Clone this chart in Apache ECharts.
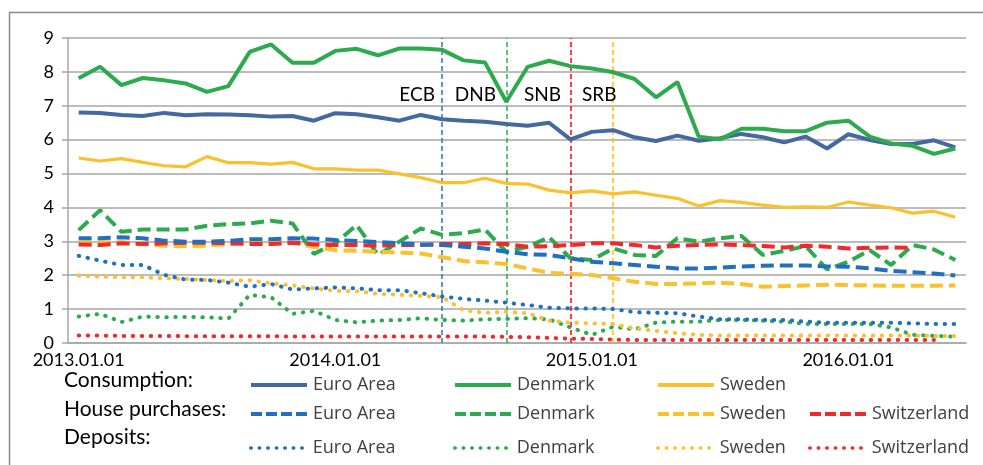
<!DOCTYPE html>
<html>
<head>
<meta charset="utf-8">
<script src="https://cdn.jsdelivr.net/npm/echarts@6/dist/echarts.min.js"></script>
<style>
  html, body { margin: 0; padding: 0; background: #fff; }
  #chart { width: 983px; height: 465px; }
</style>
</head>
<body>
<div id="chart"></div>
<script>
// months 2013.01 .. 2016.06
const months = [];
for (let y = 2013; y <= 2016; y++) {
  for (let m = 1; m <= 12; m++) {
    if (y === 2016 && m > 6) break;
    months.push(y + "." + String(m).padStart(2, "0") + ".01");
  }
}

const consEA = [6.80,6.79,6.73,6.70,6.79,6.72,6.75,6.74,6.72,6.68,6.70,6.56,
  6.78,6.75,6.66,6.56,6.73,6.60,6.56,6.53,6.46,6.41,6.50,6.01,
  6.23,6.28,6.07,5.96,6.12,5.97,6.04,6.17,6.07,5.92,6.09,5.74,
  6.16,5.99,5.87,5.87,5.98,5.77];
const consDK = [7.81,8.15,7.61,7.82,7.75,7.66,7.41,7.58,8.59,8.81,8.27,8.27,
  8.62,8.68,8.49,8.69,8.69,8.65,8.34,8.28,7.12,8.15,8.33,8.17,
  8.10,7.99,7.79,7.25,7.70,6.09,6.01,6.32,6.32,6.25,6.25,6.50,
  6.56,6.09,5.89,5.82,5.58,5.74];
const consSE = [5.46,5.37,5.44,5.33,5.23,5.20,5.50,5.32,5.32,5.28,5.33,5.14,
  5.14,5.10,5.10,4.99,4.88,4.73,4.73,4.86,4.71,4.69,4.51,4.43,
  4.49,4.40,4.46,4.36,4.27,4.04,4.20,4.15,4.07,4.00,4.02,4.00,
  4.16,4.07,3.99,3.83,3.89,3.71];

const hpEA = [3.09,3.09,3.12,3.09,3.02,2.99,2.99,3.01,3.06,3.06,3.09,3.08,
  3.04,3.01,2.98,2.94,2.91,2.89,2.84,2.79,2.69,2.62,2.60,2.50,
  2.40,2.35,2.30,2.25,2.20,2.20,2.22,2.26,2.28,2.29,2.29,2.26,
  2.25,2.20,2.13,2.09,2.05,1.99];
const hpDK = [3.33,3.92,3.28,3.35,3.35,3.35,3.46,3.51,3.53,3.61,3.53,2.63,
  2.94,3.48,2.60,2.99,3.38,3.19,3.24,3.35,2.69,2.84,3.12,2.50,
  2.45,2.79,2.60,2.57,3.09,2.99,3.09,3.16,2.60,2.72,2.86,2.17,
  2.40,2.74,2.30,2.89,2.76,2.45];
const hpSE = [2.97,2.97,2.97,2.94,2.87,2.86,2.87,2.92,3.01,3.01,2.96,2.84,
  2.74,2.72,2.69,2.67,2.64,2.53,2.42,2.38,2.33,2.20,2.07,2.04,
  2.01,1.91,1.81,1.74,1.74,1.76,1.78,1.74,1.66,1.68,1.70,1.72,
  1.71,1.70,1.69,1.69,1.69,1.70];
const hpCH = [2.91,2.89,2.94,2.92,2.94,2.96,2.96,2.94,2.92,2.92,2.96,2.91,
  2.89,2.89,2.87,2.89,2.89,2.92,2.92,2.94,2.92,2.84,2.86,2.89,
  2.94,2.94,2.89,2.82,2.87,2.89,2.91,2.89,2.86,2.82,2.87,2.84,
  2.79,2.81,2.82,2.81,null,null];

const depEA = [2.57,2.43,2.30,2.30,2.01,1.87,1.86,1.78,1.66,1.74,1.58,1.61,
  1.64,1.61,1.56,1.56,1.47,1.37,1.30,1.25,1.19,1.12,1.04,1.02,
  1.02,1.00,0.91,0.89,0.88,0.78,0.70,0.70,0.68,0.68,0.63,0.60,
  0.60,0.60,0.60,0.58,0.56,0.56];
const depDK = [0.78,0.86,0.62,0.78,0.76,0.77,0.76,0.72,1.42,1.35,0.86,0.95,
  0.68,0.61,0.66,0.68,0.73,0.68,0.66,0.70,0.71,0.73,0.70,0.46,
  0.24,0.48,0.40,0.60,0.63,0.63,0.68,0.68,0.66,0.63,0.56,0.56,
  0.56,0.56,0.46,0.24,0.21,0.19];
const depSE = [1.99,1.96,1.94,1.94,1.91,1.89,1.86,1.83,1.85,1.76,1.70,1.61,
  1.54,1.53,1.45,1.42,1.39,1.35,0.97,0.89,0.92,0.88,0.66,0.60,
  0.58,0.56,0.43,0.36,0.29,0.24,0.22,0.22,0.22,0.22,0.22,0.22,
  0.22,0.22,0.22,0.22,0.21,0.21];
const depCH = [0.22,0.22,0.21,0.21,0.21,0.20,0.20,0.20,0.20,0.20,0.19,0.19,
  0.19,0.19,0.19,0.19,0.19,0.19,0.19,0.19,0.18,0.17,0.15,0.13,
  0.12,0.10,0.09,0.09,0.09,0.09,0.09,0.09,0.09,0.09,0.09,0.09,
  0.09,0.09,0.09,0.09,0.09,null];

// policy events: month of rate cut, label
const events = [
  { name: "ECB", month: "2014.06.01", color: "#2E75B6", dx: -25 },
  { name: "DNB", month: "2014.09.01", color: "#2DAA4E", dx: -31 },
  { name: "SNB", month: "2014.12.01", color: "#FF0000", dx: -28 },
  { name: "SRB", month: "2015.02.01", color: "#FFC000", dx: -14 },
];

const C_EA = "#44699E", C_EA2 = "#2170C0", C_DK = "#2DAA4E", C_SE = "#FBC02D", C_CH = "#EE2A2A";
const DASH = [13, 6], DOT = [0.5, 8.5];

// [id, label, data, color, dash, width, row, col]
const defs = [
  ["cons_EA", "Euro Area", consEA, C_EA, "solid", 4, 0, 0],
  ["cons_DK", "Denmark", consDK, C_DK, "solid", 4, 0, 1],
  ["cons_SE", "Sweden", consSE, C_SE, "solid", 3.2, 0, 2],
  ["hp_EA", "Euro Area", hpEA, C_EA2, DASH, 4, 1, 0],
  ["hp_DK", "Denmark", hpDK, C_DK, DASH, 4, 1, 1],
  ["hp_SE", "Sweden", hpSE, C_SE, DASH, 4, 1, 2],
  ["hp_CH", "Switzerland", hpCH, C_CH, DASH, 4, 1, 3],
  ["dep_EA", "Euro Area", depEA, C_EA2, DOT, 4, 2, 0],
  ["dep_DK", "Denmark", depDK, C_DK, DOT, 4, 2, 1],
  ["dep_SE", "Sweden", depSE, C_SE, DOT, 4, 2, 2],
  ["dep_CH", "Switzerland", depCH, C_CH, DOT, 4, 2, 3],
];

const labelOf = {};
defs.forEach((d) => (labelOf[d[0]] = d[1]));

const rowY = [383, 412, 446];
const colX = [249, 453, 656, 808];

const series = defs.map((d, i) => ({
  name: d[0],
  type: "line",
  data: d[2],
  symbol: "none",
  connectNulls: false,
  z: 10 - Math.floor(i / 4),
  lineStyle: { color: d[3], type: d[4], width: d[5], cap: d[4] === DOT ? "round" : "butt" },
  itemStyle: { color: d[3] },
}));

series[0].markLine = {
  silent: true,
  symbol: ["none", "none"],
  label: { show: false },
  lineStyle: { type: [5, 3], width: 1.5 },
  data: events.map((e) => ({ xAxis: e.month, lineStyle: { color: e.color } })),
};
series[0].markPoint = {
  symbol: "circle",
  symbolSize: 0,
  itemStyle: { color: "transparent" },
  label: {
    show: true,
    position: "inside",
    color: "#000",
    fontFamily: "Lato",
    fontSize: 19,
    formatter: (p) => p.name,
  },
  data: events.map((e) => ({ name: e.name, coord: [e.month, 7.32], label: { offset: [e.dx, 0] } })),
};

// legend sample line style per kind
function legendLine(d) {
  if (d[4] === DOT) return { width: 3.5, type: [0.5, 8], cap: "round" };
  if (d[4] === DASH) return { width: 4, type: [11, 4] };
  return { width: 4 };
}

const legends = defs.map((d) => ({
  data: [d[0]],
  left: colX[d[7]],
  top: rowY[d[6]] - 7,
  padding: 0,
  itemWidth: 56,
  itemHeight: 14,
  itemGap: 0,
  selectedMode: false,
  formatter: (n) => labelOf[n],
  textStyle: { fontFamily: "Open Sans", fontSize: 18, color: "#404040", padding: [0, 0, 0, 1] },
  itemStyle: { opacity: 0 },
  lineStyle: legendLine(d),
}));

const rowLabels = ["Consumption:", "House purchases:", "Deposits:"];
const graphic = [
  {
    type: "rect",
    shape: { x: 9.5, y: 12.5, width: 1100, height: 600 },
    style: { fill: "none", stroke: "#8c8c8c", lineWidth: 1.5 },
    silent: true,
  },
].concat(
  rowLabels.map((t, i) => ({
    type: "text",
    left: 64,
    top: [383, 412, 440][i] - 13,
    style: { text: t, fontFamily: "Lato", fontSize: 21, fill: "#000" },
  }))
);

const chart = echarts.init(document.getElementById("chart"));
chart.setOption({
  animation: false,
  backgroundColor: "#fff",
  grid: { left: 68, right: 17, top: 38, bottom: 122 },
  xAxis: {
    type: "category",
    data: months,
    boundaryGap: true,
    axisLine: { lineStyle: { color: "#a6a6a6", width: 1.5 } },
    axisTick: { interval: 11, length: 6, lineStyle: { color: "#a6a6a6", width: 1.5 } },
    axisLabel: { interval: 11, color: "#000", fontFamily: "Lato", fontSize: 18, margin: 8 },
    splitLine: { show: false },
  },
  yAxis: {
    type: "value",
    min: 0,
    max: 9,
    interval: 1,
    axisLine: { show: true, lineStyle: { color: "#a6a6a6", width: 1.5 } },
    axisTick: { show: true, length: 6, lineStyle: { color: "#a6a6a6", width: 1.5 } },
    axisLabel: { color: "#000", fontFamily: "Lato", fontSize: 18, margin: 14 },
    splitLine: { lineStyle: { color: "#a6a6a6", width: 1.5 } },
  },
  legend: legends,
  graphic: graphic,
  series: series,
});
</script>
</body>
</html>
